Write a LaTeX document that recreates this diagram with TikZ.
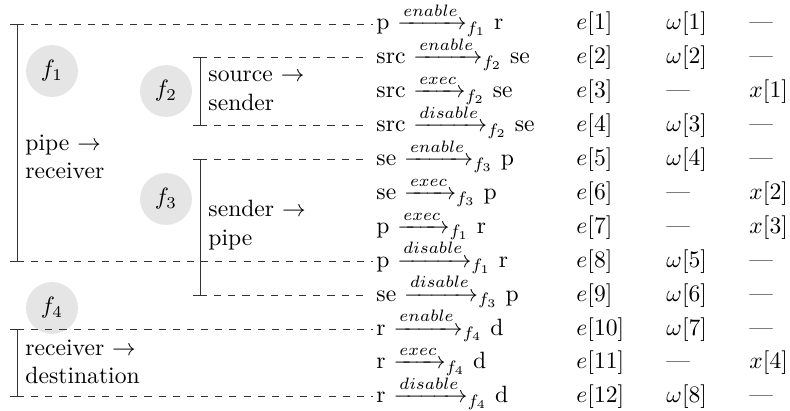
\documentclass[tikz,border=0pt]{standalone}
\usepackage{amsmath}
\usetikzlibrary{calc}
\begin{document}
\begin{tikzpicture}[x=0.4237pt,y=-0.4237pt,
  fcirc/.style={circle,fill=black!10,minimum size=22pt,inner sep=0pt},
  brk/.style={line width=0.4pt,draw=black!80},
  guide/.style={dashed,line width=0.4pt,draw=black!80},
  rowtxt/.style={anchor=base west,inner sep=0pt},
  lab/.style={anchor=west,align=left,inner sep=0pt}]
\useasboundingbox (0,0) rectangle (790,411);

% circles
\node[fcirc] (f1) at (52,71) {$f_1$};
\node[fcirc] (f2) at (166,91) {$f_2$};
\node[fcirc] (f3) at (166,199) {$f_3$};
\node[fcirc] (f4) at (52,308) {$f_4$};

% bracket labels
\node[lab] (l1) at (25,157) {pipe $\rightarrow$\\receiver};
\node[lab] (l2) at (208,91) {source $\rightarrow$\\sender};
\node[lab] (l3) at (208,225) {sender $\rightarrow$\\pipe};
\node[lab] (l4) at (25,362) {receiver $\rightarrow$\\destination};

% rows
\node[rowtxt] (r1) at (376,30.0) {p $\xrightarrow{enable}_{f_1}$ r};
\node[rowtxt] (r2) at (376,63.9) {src $\xrightarrow{enable}_{f_2}$ se};
\node[rowtxt] (r3) at (376,97.8) {src $\xrightarrow{exec}_{f_2}$ se};
\node[rowtxt] (r4) at (376,131.7) {src $\xrightarrow{disable}_{f_2}$ se};
\node[rowtxt] (r5) at (376,165.6) {se $\xrightarrow{enable}_{f_3}$ p};
\node[rowtxt] (r6) at (376,199.5) {se $\xrightarrow{exec}_{f_3}$ p};
\node[rowtxt] (r7) at (376,233.4) {p $\xrightarrow{exec}_{f_1}$ r};
\node[rowtxt] (r8) at (376,267.3) {p $\xrightarrow{disable}_{f_1}$ r};
\node[rowtxt] (r9) at (376,301.2) {se $\xrightarrow{disable}_{f_3}$ p};
\node[rowtxt] (r10) at (376,335.1) {r $\xrightarrow{enable}_{f_4}$ d};
\node[rowtxt] (r11) at (376,369.0) {r $\xrightarrow{exec}_{f_4}$ d};
\node[rowtxt] (r12) at (376,402.9) {r $\xrightarrow{disable}_{f_4}$ d};

% e column
\node[rowtxt] (e1) at (576,30.0) {$e[1]$};
\node[rowtxt] (e2) at (576,63.9) {$e[2]$};
\node[rowtxt] (e3) at (576,97.8) {$e[3]$};
\node[rowtxt] (e4) at (576,131.7) {$e[4]$};
\node[rowtxt] (e5) at (576,165.6) {$e[5]$};
\node[rowtxt] (e6) at (576,199.5) {$e[6]$};
\node[rowtxt] (e7) at (576,233.4) {$e[7]$};
\node[rowtxt] (e8) at (576,267.3) {$e[8]$};
\node[rowtxt] (e9) at (576,301.2) {$e[9]$};
\node[rowtxt] (e10) at (576,335.1) {$e[10]$};
\node[rowtxt] (e11) at (576,369.0) {$e[11]$};
\node[rowtxt] (e12) at (576,402.9) {$e[12]$};

% omega column
\node[rowtxt] (w1) at (666,30.0) {$\omega[1]$};
\node[rowtxt] (w2) at (666,63.9) {$\omega[2]$};
\node[rowtxt] (w3) at (666,97.8) {---};
\node[rowtxt] (w4) at (666,131.7) {$\omega[3]$};
\node[rowtxt] (w5) at (666,165.6) {$\omega[4]$};
\node[rowtxt] (w6) at (666,199.5) {---};
\node[rowtxt] (w7) at (666,233.4) {---};
\node[rowtxt] (w8) at (666,267.3) {$\omega[5]$};
\node[rowtxt] (w9) at (666,301.2) {$\omega[6]$};
\node[rowtxt] (w10) at (666,335.1) {$\omega[7]$};
\node[rowtxt] (w11) at (666,369.0) {---};
\node[rowtxt] (w12) at (666,402.9) {$\omega[8]$};

% x column
\node[rowtxt] (x1) at (749,30.0) {---};
\node[rowtxt] (x2) at (749,63.9) {---};
\node[rowtxt] (x3) at (749,97.8) {$x[1]$};
\node[rowtxt] (x4) at (749,131.7) {---};
\node[rowtxt] (x5) at (749,165.6) {---};
\node[rowtxt] (x6) at (749,199.5) {$x[2]$};
\node[rowtxt] (x7) at (749,233.4) {$x[3]$};
\node[rowtxt] (x8) at (749,267.3) {---};
\node[rowtxt] (x9) at (749,301.2) {---};
\node[rowtxt] (x10) at (749,335.1) {---};
\node[rowtxt] (x11) at (749,369.0) {$x[4]$};
\node[rowtxt] (x12) at (749,402.9) {---};

% bracket end points
\coordinate (b1t) at (17,24.0);
\coordinate (b1b) at (17,261.3);
\coordinate (b2t) at (200,57.9);
\coordinate (b2b) at (200,125.7);
\coordinate (b3t) at (200,159.6);
\coordinate (b3b) at (200,295.2);
\coordinate (b4t) at (17,329.1);
\coordinate (b4b) at (17,396.9);

% brackets
\foreach \b in {b1,b2,b3,b4}{
  \draw[brk] ($(\b t)+(-7,0)$) -- ($(\b t)+(7,0)$)
             (\b t) -- (\b b)
             ($(\b b)+(-7,0)$) -- ($(\b b)+(7,0)$);
}

% dashed guides
\draw[guide,shorten >=1.3pt] (b1t) -- (b1t -| r1.west);
\draw[guide,shorten >=1.3pt] (b1b) -- (b1b -| r8.west);
\draw[guide,shorten >=1.3pt] (b4t) -- (b4t -| r10.west);
\draw[guide,shorten >=1.3pt] (b4b) -- (b4b -| r12.west);
\draw[guide,shorten >=4.2pt] (b2t) -- (b2t -| r2.west);
\draw[guide,shorten >=4.2pt] (b2b) -- (b2b -| r4.west);
\draw[guide,shorten >=4.2pt] (b3t) -- (b3t -| r5.west);
\draw[guide,shorten >=4.2pt] (b3b) -- (b3b -| r9.west);
\end{tikzpicture}
\end{document}
